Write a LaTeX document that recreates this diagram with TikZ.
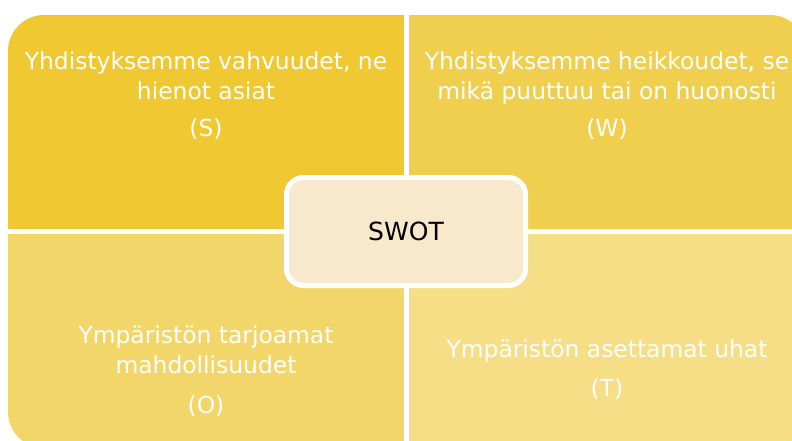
\documentclass[tikz,border=0pt]{standalone}
\usepackage{fontspec}
\setmainfont{DejaVu Sans}
\definecolor{quadS}{RGB}{239,200,50}
\definecolor{quadW}{RGB}{240,207,78}
\definecolor{quadO}{RGB}{243,214,106}
\definecolor{quadT}{RGB}{245,222,134}
\definecolor{centerfill}{RGB}{249,233,204}
\tikzset{
  qtext/.style={anchor=base, text=white, inner sep=0pt, font=\fontsize{23.4}{28}\selectfont},
  hub/.style={draw=white, line width=5pt, fill=centerfill, rounded corners=17pt,
    minimum width=239pt, minimum height=108pt, inner sep=0pt,
    font=\fontsize{25}{30}\selectfont, text=black}
}
\begin{document}
\begin{tikzpicture}[x=1pt,y=-1pt]
\useasboundingbox (0,0) rectangle (792,440);
\fill[white] (0,0) rectangle (792,440);
% four quadrants inside one rounded outline
\begin{scope}
  \clip[rounded corners=36pt] (8,15) rectangle (806,448);
  \fill[quadS] (8,15) rectangle (404,229);
  \fill[quadW] (409,15) rectangle (806,229);
  \fill[quadO] (8,234) rectangle (404,448);
  \fill[quadT] (409,234) rectangle (806,448);
\end{scope}
% strengths
\node[qtext] (s1) at (206,69) {Yhdistyksemme vahvuudet, ne};
\node[qtext] (s2) at (206,99) {hienot asiat};
\node[qtext] (s3) at (206,136) {(S)};
% weaknesses
\node[qtext] (w1) at (607,69) {Yhdistyksemme heikkoudet, se};
\node[qtext] (w2) at (607,99) {mikä puuttuu tai on huonosti};
\node[qtext] (w3) at (607,136) {(W)};
% opportunities
\node[qtext] (o1) at (206,343) {Ympäristön tarjoamat};
\node[qtext] (o2) at (206,373) {mahdollisuudet};
\node[qtext] (o3) at (206,413) {(O)};
% threats
\node[qtext] (t1) at (607,357) {Ympäristön asettamat uhat};
\node[qtext] (t2) at (607,396) {(T)};
% centre
\node[hub] (swot) at (406,231.5) {SWOT};
\end{tikzpicture}
\end{document}
